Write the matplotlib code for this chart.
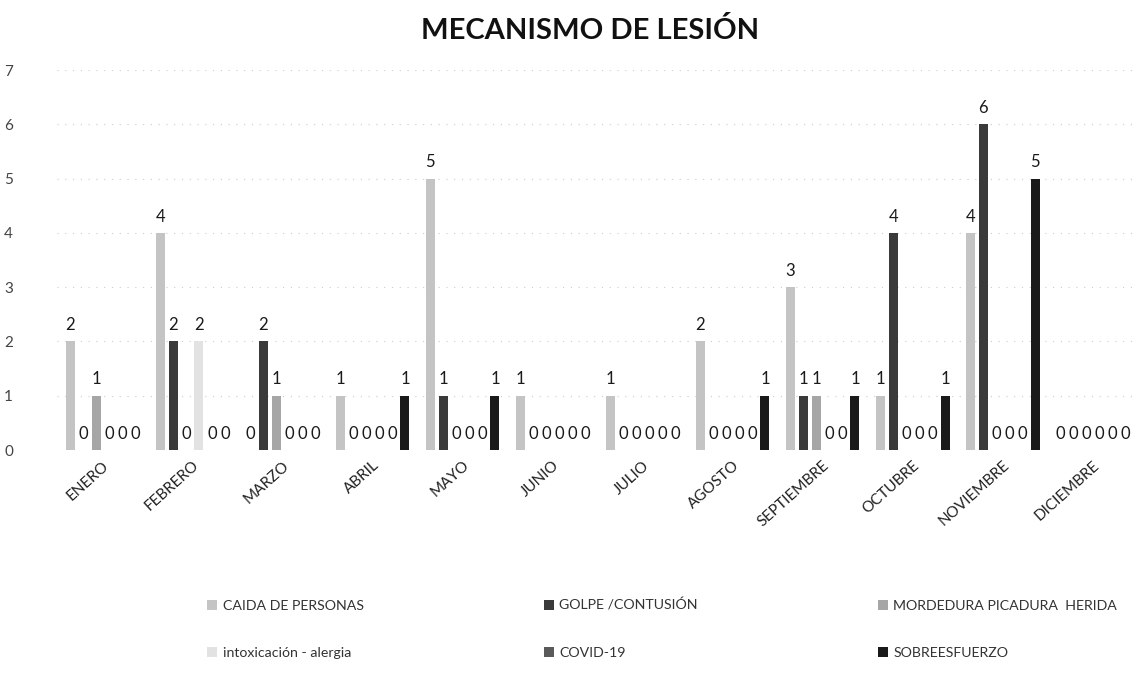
import matplotlib
matplotlib.use("Agg")
import matplotlib.pyplot as plt
import numpy as np

months = ["ENERO", "FEBRERO", "MARZO", "ABRIL", "MAYO", "JUNIO", "JULIO",
          "AGOSTO", "SEPTIEMBRE", "OCTUBRE", "NOVIEMBRE", "DICIEMBRE"]

caida = [2, 4, 0, 1, 5, 1, 1, 2, 3, 1, 4, 0]
golpe = [0, 2, 2, 0, 1, 0, 0, 0, 1, 4, 6, 0]
mordedura = [1, 0, 1, 0, 0, 0, 0, 0, 1, 0, 0, 0]
intoxicacion = [0, 2, 0, 0, 0, 0, 0, 0, 0, 0, 0, 0]
covid = [0, 0, 0, 0, 0, 0, 0, 0, 0, 0, 0, 0]
sobreesfuerzo = [0, 0, 0, 1, 1, 0, 0, 1, 1, 1, 5, 0]

series_names = ["CAIDA DE PERSONAS", "GOLPE /CONTUSIÓN", "MORDEDURA PICADURA  HERIDA",
                "intoxicación - alergia", "COVID-19", "SOBREESFUERZO"]
series_values = [caida, golpe, mordedura, intoxicacion, covid, sobreesfuerzo]
series_colors = ["#c4c4c4", "#3a3a3a", "#a6a6a6", "#e2e2e2", "#5a5a5a", "#1a1a1a"]

plt.rcParams["font.family"] = ["Lato", "DejaVu Sans"]

fig = plt.figure(figsize=(11.43, 6.74), dpi=100)
ax = fig.add_axes([0.0503, 0.3323, 0.945, 0.5638])

x = np.arange(len(months))
slot = 0.144
bar_w = 0.10
offsets = (np.arange(6) - 2.5) * slot

handles = []
for vals, name, col, off in zip(series_values, series_names, series_colors, offsets):
    bars = ax.bar(x + off, vals, width=bar_w, color=col, label=name, zorder=3)
    handles.append(bars)
    ax.bar_label(bars, labels=[str(v) for v in vals], padding=6,
                 fontsize=12, color="#1a1a1a", zorder=4)

ax.set_xlim(-0.5, 11.5)
ax.set_ylim(0, 7)
ax.set_yticks(range(0, 8))
ax.tick_params(axis="y", length=0, labelsize=11, labelcolor="#444444", pad=32)
ax.set_xticks(x)
ax.set_xticklabels(months, rotation=42, ha="right", rotation_mode="anchor",
                   fontsize=11, color="#222222")
ax.tick_params(axis="x", length=0, pad=6)
for s in ax.spines.values():
    s.set_visible(False)
ax.grid(axis="y", color="#cccccc", linestyle=(0, (1, 6)), linewidth=0.8, zorder=0)

fig.text(0.516, 0.955, "MECANISMO DE LESIÓN", ha="center", va="center",
         fontsize=21, fontweight="bold", color="#111111")

# legend laid out row-wise (ncol fills column by column)
order = [0, 3, 1, 4, 2, 5]
leg = fig.legend([handles[i] for i in order], [series_names[i] for i in order],
                 ncol=3, loc="upper left", bbox_to_anchor=(0.175, 0.122),
                 bbox_transform=fig.transFigure, frameon=False, fontsize=10.2,
                 handlelength=0.7, handleheight=0.7, handletextpad=0.4,
                 columnspacing=12.7, labelspacing=2.5, borderpad=0.0)
for t in leg.get_texts():
    t.set_color("#333333")

fig.savefig("out.png", dpi=100, facecolor="white")
